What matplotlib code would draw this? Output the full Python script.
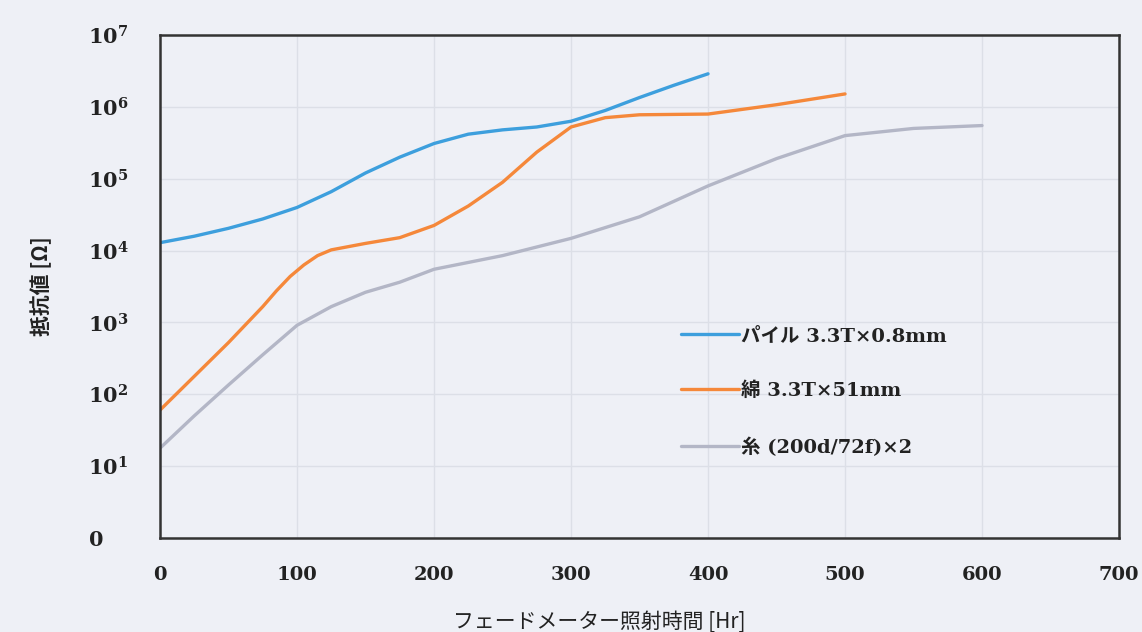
import numpy as np
import matplotlib.pyplot as plt

# 読み取り値 (時間 [Hr], log10 抵抗値)
x_pile = [0, 25, 50, 75, 100, 125, 150, 175, 200, 225, 250, 275, 300, 325, 350, 375, 400]
y_pile = [4.11, 4.20, 4.31, 4.44, 4.60, 4.82, 5.08, 5.30, 5.49, 5.62, 5.68, 5.72, 5.80, 5.95, 6.13, 6.30, 6.46]

x_men = [0, 25, 50, 75, 85, 95, 105, 115, 125, 150, 175, 200, 225, 250, 275, 300, 325, 350, 400, 450, 500]
y_men = [1.78, 2.25, 2.72, 3.22, 3.44, 3.64, 3.80, 3.93, 4.01, 4.10, 4.18, 4.35, 4.62, 4.95, 5.37, 5.72, 5.85, 5.89, 5.90, 6.03, 6.18]

x_ito = [0, 25, 50, 75, 100, 125, 150, 175, 200, 250, 300, 350, 400, 450, 500, 550, 600]
y_ito = [1.25, 1.70, 2.13, 2.55, 2.96, 3.22, 3.42, 3.56, 3.74, 3.93, 4.17, 4.47, 4.90, 5.28, 5.60, 5.70, 5.74]

labels = ['パイル 3.3T×0.8mm', '綿 3.3T×51mm', '糸 (200d/72f)×2']
colors = ['#3d9fdd', '#f5883a', '#b3b6c6']

xticks = [0, 100, 200, 300, 400, 500, 600, 700]
yticks = [1, 1e1, 1e2, 1e3, 1e4, 1e5, 1e6, 1e7]
ytick_labels = ['$\\mathbf{0}$'] + ['$\\mathbf{10^{%d}}$' % n for n in range(1, 8)]

plt.rcParams['mathtext.fontset'] = 'dejavuserif'
bg = '#eef0f6'
fig = plt.figure(figsize=(11.42, 6.32), dpi=100, facecolor=bg)
ax = fig.add_axes([0.1401, 0.1487, 0.8398, 0.7959], facecolor=bg)

for xs, ys, lab, c in zip([x_pile, x_men, x_ito], [y_pile, y_men, y_ito], labels, colors):
    ax.plot(xs, 10 ** np.array(ys), color=c, lw=2.4, label=lab, solid_capstyle='round')

ax.set_yscale('log')
ax.set_xlim(0, 700)
ax.set_ylim(1, 1e7)
ax.set_xticks(xticks)
ax.set_xticklabels([str(v) for v in xticks], family='DejaVu Serif', fontsize=14, fontweight='bold')
ax.set_yticks(yticks)
ax.set_yticklabels(ytick_labels, fontsize=15, ha='left')
ax.yaxis.set_minor_locator(plt.NullLocator())
ax.tick_params(axis='x', length=0, pad=20, colors='#222222')
ax.tick_params(axis='y', length=0, pad=52, colors='#222222')
ax.grid(True, color='#dcdfe7', lw=1)
for s in ax.spines.values():
    s.set_color('#333333')
    s.set_linewidth(1.8)

ax.set_ylabel('抵抗値 [Ω]', family=['Noto Sans CJK JP', 'DejaVu Sans'], fontweight='bold',
              fontsize=15, color='#222222')
ax.yaxis.set_label_coords(-0.112, 0.5)
ax.set_xlabel('フェードメーター照射時間 [Hr]', family=['Noto Sans CJK JP', 'DejaVu Sans'],
              fontsize=15, color='#222222')
ax.xaxis.set_label_coords(0.458, -0.145)

leg = ax.legend(loc='upper left', bbox_to_anchor=(0.525, 0.455), frameon=False,
                handlelength=3.0, handletextpad=0.1, labelspacing=1.9,
                prop={'family': ['DejaVu Serif', 'Noto Sans CJK JP'], 'size': 14, 'weight': 'bold'})
for t in leg.get_texts():
    t.set_color('#222222')

fig.savefig('out.png', dpi=100, facecolor=bg)
